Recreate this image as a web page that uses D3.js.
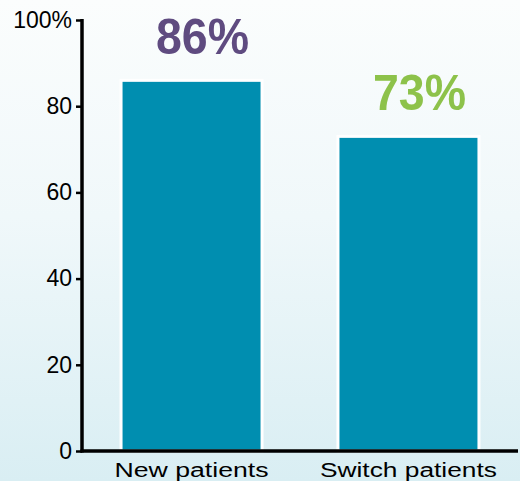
<!DOCTYPE html>
<html><head><meta charset="utf-8">
<script src="https://cdn.jsdelivr.net/npm/d3@7"></script>
<style>html,body{margin:0;padding:0;overflow:hidden;}</style>
</head><body>
<script>
const categories = ["New patients", "Switch patients"];
const values = [86, 73];
const valueLabels = ["86%", "73%"];
const labelColors = ["#5f4b80", "#8dc24a"];
const yTicks = [0, 20, 40, 60, 80, 100];
const yTickLabels = ["0", "20", "40", "60", "80", "100%"];

const W = 520, H = 481;
const FONT = "Liberation Sans, Arial, sans-serif";
const svg = d3.select("body").append("svg").attr("width", W).attr("height", H);
const defs = svg.append("defs");
const grad = defs.append("linearGradient").attr("id", "bg").attr("x1", 0).attr("y1", 0).attr("x2", 0).attr("y2", 1);
grad.append("stop").attr("offset", "0%").attr("stop-color", "#fbfdfd");
grad.append("stop").attr("offset", "45%").attr("stop-color", "#f0f8fa");
grad.append("stop").attr("offset", "100%").attr("stop-color", "#d9eef3");
svg.append("rect").attr("width", W).attr("height", H).attr("fill", "url(#bg)");

const x = d3.scaleBand().domain(categories).range([82, 518]).paddingInner(0.35).paddingOuter(0.18);
const y = d3.scaleLinear().domain([0, 100]).range([451, 20]);

svg.selectAll("rect.bar").data(values).join("rect").attr("class", "bar")
  .attr("x", (d, i) => x(categories[i]))
  .attr("y", d => y(d))
  .attr("width", x.bandwidth())
  .attr("height", d => y(0) - y(d))
  .attr("fill", "#008eb0")
  .attr("stroke", "#ffffff").attr("stroke-width", 3);

svg.selectAll("text.val").data(values).join("text").attr("class", "val")
  .attr("x", (d, i) => x(categories[i]) + x.bandwidth() / 2 + 11)
  .attr("y", d => y(d) - 26)
  .attr("text-anchor", "middle")
  .attr("font-family", FONT)
  .attr("font-weight", "bold").attr("font-size", 50)
  .attr("textLength", 93).attr("lengthAdjust", "spacingAndGlyphs")
  .attr("fill", (d, i) => labelColors[i])
  .text((d, i) => valueLabels[i]);

const yAxis = d3.axisLeft(y).tickValues(yTicks).tickSize(6).tickPadding(4)
  .tickFormat((d, i) => yTickLabels[i]);
const gy = svg.append("g").attr("transform", "translate(82,0)").call(yAxis);
gy.select(".domain").remove();
gy.selectAll(".tick line").attr("stroke", "#000").attr("stroke-width", 2.5);
gy.selectAll(".tick text").attr("font-family", FONT)
  .attr("font-size", 23).attr("fill", "#000");
svg.append("line").attr("x1", 82).attr("x2", 82).attr("y1", 19).attr("y2", 452.5)
  .attr("stroke", "#000").attr("stroke-width", 3.5);

const xAxis = d3.axisBottom(x).tickSize(0).tickPadding(12);
const gx = svg.append("g").attr("transform", "translate(0,451)").call(xAxis);
gx.select(".domain").remove();
gx.selectAll(".tick text").attr("font-family", FONT)
  .attr("font-size", 20).attr("fill", "#000")
  .attr("textLength", (d) => d === categories[0] ? 154 : 177)
  .attr("lengthAdjust", "spacingAndGlyphs");
svg.append("line").attr("x1", 80.5).attr("x2", 518).attr("y1", 451).attr("y2", 451)
  .attr("stroke", "#000").attr("stroke-width", 3.5);
</script>
</body></html>
